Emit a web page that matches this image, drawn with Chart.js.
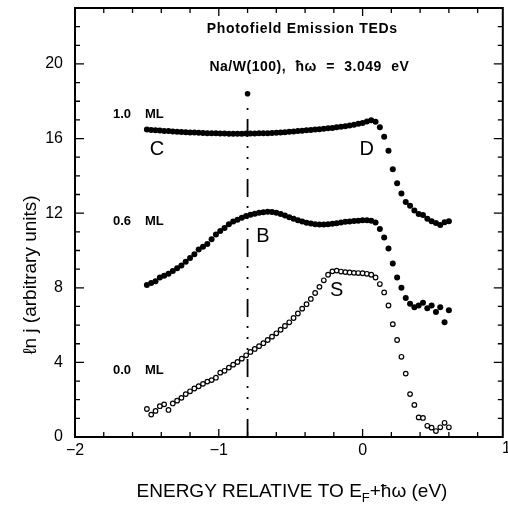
<!DOCTYPE html>
<html>
<head>
<meta charset="utf-8">
<script src="https://cdn.jsdelivr.net/npm/chart.js@4.4.0/dist/chart.umd.min.js"></script>
<style>
html, body { margin: 0; padding: 0; background: #fff; }
</style>
</head>
<body>
<canvas id="ted" width="508" height="508"></canvas>
<script>
// energy grid (eV, relative to EF + hw)
const energy = [-1.50, -1.47, -1.44, -1.41, -1.38, -1.35, -1.32, -1.29, -1.26, -1.23,
  -1.20, -1.17, -1.14, -1.11, -1.08, -1.05, -1.02, -0.99, -0.96, -0.93,
  -0.90, -0.87, -0.84, -0.81, -0.78, -0.75, -0.72, -0.69, -0.66, -0.63,
  -0.60, -0.57, -0.54, -0.51, -0.48, -0.45, -0.42, -0.39, -0.36, -0.33,
  -0.30, -0.27, -0.24, -0.21, -0.18, -0.15, -0.12, -0.09, -0.06, -0.03,
  0.00, 0.03, 0.06, 0.09, 0.12, 0.15, 0.18, 0.21, 0.24, 0.27,
  0.30, 0.33, 0.36, 0.39, 0.42, 0.45, 0.48, 0.51, 0.54, 0.57, 0.60];

// ln j, 1.0 ML
const ml10 = [16.48, 16.46, 16.44, 16.43, 16.41, 16.40, 16.38, 16.37, 16.35, 16.34,
  16.33, 16.32, 16.31, 16.30, 16.29, 16.28, 16.28, 16.27, 16.27, 16.26,
  16.26, 16.26, 16.26, 16.27, 16.27, 16.27, 16.28, 16.28, 16.29, 16.30,
  16.31, 16.32, 16.34, 16.36, 16.38, 16.40, 16.42, 16.44, 16.46, 16.48,
  16.50, 16.52, 16.55, 16.57, 16.60, 16.63, 16.66, 16.70, 16.74, 16.79,
  16.84, 16.91, 16.98, 16.90, 16.60, 16.10, 15.35, 14.35, 13.60, 13.05,
  12.60, 12.40, 12.15, 11.95, 11.90, 11.70, 11.57, 11.47, 11.36, 11.52, 11.57];

// ln j, 0.6 ML
const ml06 = [8.15, 8.25, 8.35, 8.55, 8.65, 8.75, 8.90, 9.05, 9.20, 9.40,
  9.60, 9.80, 10.05, 10.20, 10.35, 10.60, 10.85, 11.05, 11.20, 11.40,
  11.55, 11.65, 11.75, 11.85, 11.92, 11.97, 12.02, 12.05, 12.07, 12.06,
  12.02, 11.95, 11.87, 11.78, 11.70, 11.62, 11.55, 11.48, 11.44, 11.41,
  11.39, 11.39, 11.41, 11.43, 11.46, 11.50, 11.54, 11.56, 11.58, 11.60,
  11.62, 11.62, 11.60, 11.50, 11.15, 10.70, 10.10, 9.30, 8.55, 8.00,
  7.45, 7.15, 6.95, 7.05, 7.20, 6.90, 7.05, 6.70, 6.95, 6.15, 6.80];

// ln j, 0.0 ML (clean surface)
const ml00 = [1.50, 1.20, 1.40, 1.65, 1.75, 1.45, 1.80, 1.95, 2.10, 2.30,
  2.45, 2.60, 2.72, 2.85, 2.97, 3.05, 3.18, 3.45, 3.55, 3.72,
  3.88, 4.02, 4.20, 4.38, 4.56, 4.72, 4.87, 5.03, 5.20, 5.38,
  5.56, 5.75, 5.95, 6.15, 6.38, 6.62, 6.88, 7.12, 7.40, 7.72,
  8.05, 8.40, 8.70, 8.88, 8.92, 8.87, 8.84, 8.82, 8.80, 8.79,
  8.78, 8.75, 8.70, 8.55, 8.20, 7.75, 7.05, 6.05, 5.20, 4.30,
  3.40, 2.30, 1.72, 1.05, 1.02, 0.60, 0.50, 0.32, 0.52, 0.76, 0.52];

const xTicks = [-2, -1, 0, 1];
const yTicks = [0, 4, 8, 12, 16, 20];

// dash-dot marker line at feature B
const markerEnergy = -0.8;
const markerTop = 17.8;
const markerDot = 18.4;

const FONT = "'Liberation Sans', Arial, Helvetica, sans-serif";

function pts(vals) {
  return energy.map((e, i) => ({ x: e, y: vals[i] }));
}

// text inside the plot, placed in data coordinates
const notes = [
  { text: 'Photofield Emission TEDs', x: -0.42, y: 21.87, font: 'bold 14px ' + FONT, align: 'center', ls: '0.7px', ws: '0px' },
  { text: 'Na/W(100), ħω = 3.049 eV', x: -0.37, y: 19.84, font: 'bold 14px ' + FONT, align: 'center', ls: '0.5px', ws: '5px' },
  { text: '1.0', x: -1.736, y: 17.28, font: 'bold 13px ' + FONT, align: 'left' },
  { text: 'ML', x: -1.514, y: 17.28, font: 'bold 13px ' + FONT, align: 'left' },
  { text: '0.6', x: -1.736, y: 11.57, font: 'bold 13px ' + FONT, align: 'left' },
  { text: 'ML', x: -1.514, y: 11.57, font: 'bold 13px ' + FONT, align: 'left' },
  { text: '0.0', x: -1.736, y: 3.57, font: 'bold 13px ' + FONT, align: 'left' },
  { text: 'ML', x: -1.514, y: 3.57, font: 'bold 13px ' + FONT, align: 'left' },
  { text: 'C', x: -1.43, y: 15.41, font: '20px ' + FONT, align: 'center' },
  { text: 'D', x: 0.028, y: 15.41, font: '20px ' + FONT, align: 'center' },
  { text: 'B', x: -0.694, y: 10.77, font: '20px ' + FONT, align: 'center' },
  { text: 'S', x: -0.18, y: 7.85, font: '20px ' + FONT, align: 'center' }
];

const decor = {
  id: 'decor',
  afterDatasetsDraw(chart) {
    const { ctx, chartArea: a, scales: { x, y } } = chart;
    ctx.save();
    ctx.strokeStyle = '#000';
    ctx.fillStyle = '#000';

    // frame
    ctx.lineWidth = 2;
    ctx.strokeRect(a.left, a.top, a.right - a.left, a.bottom - a.top);

    // inward ticks on all four sides
    ctx.lineWidth = 1.3;
    ctx.beginPath();
    for (let i = 0; i <= 14; i++) {
      const px = x.getPixelForValue(-2 + i * 0.2);
      const len = i % 5 === 0 ? 8 : 5;
      ctx.moveTo(px, a.bottom); ctx.lineTo(px, a.bottom - len);
      ctx.moveTo(px, a.top); ctx.lineTo(px, a.top + len);
    }
    for (let v = 0; v <= 23; v++) {
      const py = y.getPixelForValue(v);
      const len = v % 4 === 0 ? 9 : 5;
      ctx.moveTo(a.left, py); ctx.lineTo(a.left + len, py);
      ctx.moveTo(a.right, py); ctx.lineTo(a.right - len, py);
    }
    ctx.stroke();

    // the "1" tick label sits on the canvas edge
    ctx.font = '16px ' + FONT;
    ctx.textAlign = 'center';
    ctx.textBaseline = 'middle';
    ctx.fillText('1', x.getPixelForValue(1), a.bottom + 12);

    // annotations
    notes.forEach(n => {
      ctx.font = n.font;
      ctx.textAlign = n.align;
      ctx.textBaseline = 'middle';
      ctx.letterSpacing = n.ls || '0px';
      ctx.wordSpacing = n.ws || '0px';
      ctx.fillText(n.text, x.getPixelForValue(n.x), y.getPixelForValue(n.y));
    });
    ctx.letterSpacing = '0px';
    ctx.wordSpacing = '0px';

    // y axis title
    ctx.save();
    ctx.translate(31, 275);
    ctx.rotate(-Math.PI / 2);
    ctx.font = '19px ' + FONT;
    ctx.textAlign = 'center';
    ctx.textBaseline = 'middle';
    ctx.fillText('ℓn j (arbitrary units)', 0, 0);
    ctx.restore();

    // x axis title with subscript F
    const big = '19px ' + FONT, small = '13px ' + FONT;
    const p1 = 'ENERGY RELATIVE TO E', p2 = 'F', p3 = '+ħω (eV)';
    ctx.font = big;
    const w1 = ctx.measureText(p1).width, w3 = ctx.measureText(p3).width;
    ctx.font = small;
    const w2 = ctx.measureText(p2).width;
    let cx = 292 - (w1 + w2 + w3) / 2;
    const ty = 492;
    ctx.textAlign = 'left';
    ctx.textBaseline = 'middle';
    ctx.font = big; ctx.fillText(p1, cx, ty); cx += w1;
    ctx.font = small; ctx.fillText(p2, cx, ty + 6); cx += w2;
    ctx.font = big; ctx.fillText(p3, cx, ty);
    ctx.restore();
  }
};

new Chart(document.getElementById('ted'), {
  type: 'scatter',
  data: {
    datasets: [
      {
        label: 'marker',
        data: [{ x: markerEnergy, y: 0 }, { x: markerEnergy, y: markerTop }],
        showLine: true,
        borderColor: '#000',
        borderWidth: 1.8,
        borderDash: [18, 9, 2, 9, 2, 9, 2, 9],
        pointRadius: 0
      },
      {
        label: 'marker dot',
        data: [{ x: markerEnergy, y: markerDot }],
        pointRadius: 2.8,
        pointBackgroundColor: '#000',
        pointBorderWidth: 0
      },
      {
        label: '1.0 ML',
        data: pts(ml10),
        pointRadius: 3,
        pointBackgroundColor: '#000',
        pointBorderWidth: 0
      },
      {
        label: '0.6 ML',
        data: pts(ml06),
        pointRadius: 3,
        pointBackgroundColor: '#000',
        pointBorderWidth: 0
      },
      {
        label: '0.0 ML',
        data: pts(ml00),
        pointRadius: 2.3,
        pointBackgroundColor: '#fff',
        pointBorderColor: '#000',
        pointBorderWidth: 1.2
      }
    ]
  },
  options: {
    responsive: false,
    animation: false,
    layout: { padding: { top: 8, right: 3, left: 0, bottom: 0 } },
    plugins: { legend: { display: false }, tooltip: { enabled: false } },
    scales: {
      x: {
        type: 'linear',
        min: -2,
        max: 0.975,
        grid: { display: false, drawTicks: false },
        border: { display: false },
        afterBuildTicks: s => { s.ticks = xTicks.filter(v => v <= s.max).map(v => ({ value: v })); },
        afterFit: s => { s.height = 71; s.paddingLeft = 0; s.paddingRight = 0; },
        ticks: {
          padding: 4,
          maxRotation: 0,
          autoSkip: false,
          color: '#000',
          font: { family: FONT, size: 16 },
          callback: v => String(v).replace('-', '−')
        }
      },
      y: {
        type: 'linear',
        min: 0,
        max: 23,
        grid: { display: false, drawTicks: false },
        border: { display: false },
        afterBuildTicks: s => { s.ticks = yTicks.map(v => ({ value: v })); },
        afterFit: s => { s.width = 75; s.paddingTop = 0; s.paddingBottom = 0; },
        ticks: {
          padding: 12,
          autoSkip: false,
          color: '#000',
          font: { family: FONT, size: 16 }
        }
      }
    }
  },
  plugins: [decor]
});
</script>
</body>
</html>
